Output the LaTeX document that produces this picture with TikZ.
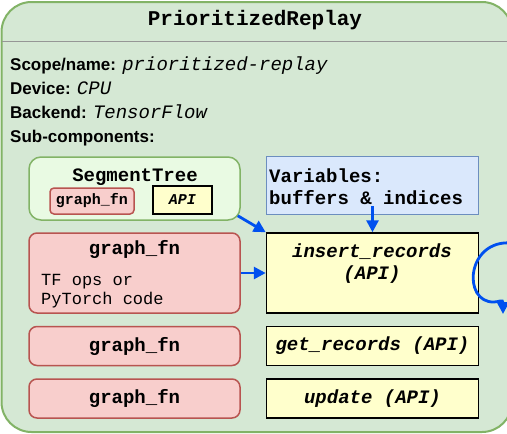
\documentclass[tikz,border=0pt]{standalone}
\usepackage{fontspec}
\setmainfont{Liberation Sans}
\setmonofont{Liberation Mono}
\usetikzlibrary{positioning,arrows.meta,calc}
\definecolor{PanelGreen}{RGB}{213,232,212}
\definecolor{PanelEdge}{RGB}{130,179,102}
\definecolor{TreeGreen}{RGB}{233,250,227}
\definecolor{FnRed}{RGB}{248,206,204}
\definecolor{FnEdge}{RGB}{184,84,80}
\definecolor{VarBlue}{RGB}{218,232,252}
\definecolor{VarEdge}{RGB}{108,142,191}
\definecolor{ApiYellow}{RGB}{255,255,204}
\definecolor{FlowBlue}{RGB}{0,80,239}
\definecolor{RuleGrey}{RGB}{150,150,150}
\tikzset{
  flow/.style={-{Triangle[length=12pt,width=12pt]},line width=2.8pt,draw=FlowBlue},
  panel/.style={draw=PanelEdge,fill=PanelGreen,line width=2pt,rounded corners=30pt},
  treebox/.style={draw=PanelEdge,fill=TreeGreen,line width=1.5pt,rounded corners=12pt,
    minimum width=211pt,minimum height=63pt},
  fnbox/.style={draw=FnEdge,fill=FnRed,line width=1.5pt,rounded corners=8pt,
    minimum width=211pt,minimum height=39pt,inner sep=0pt,
    font=\ttfamily\bfseries\fontsize{19}{22}\selectfont},
  smallfn/.style={draw=FnEdge,fill=FnRed,line width=1.5pt,rounded corners=4pt,
    minimum width=84pt,minimum height=26pt,inner sep=0pt,
    font=\ttfamily\bfseries\fontsize{15}{18}\selectfont},
  apibox/.style={draw=black,fill=ApiYellow,line width=1.5pt,
    minimum width=212pt,minimum height=39pt,inner sep=0pt,
    font=\ttfamily\bfseries\itshape\fontsize{19}{22}\selectfont},
  varbox/.style={draw=VarEdge,fill=VarBlue,line width=1.5pt,
    minimum width=212pt,minimum height=58pt},
  proptext/.style={anchor=base west,inner sep=0pt,font=\bfseries\fontsize{17}{20}\selectfont},
  codetext/.style={anchor=base,inner sep=0pt,font=\ttfamily\bfseries\fontsize{19}{22}\selectfont},
  notetext/.style={anchor=base west,inner sep=0pt,font=\ttfamily\fontsize{17}{20}\selectfont}
}

\begin{document}
\begin{tikzpicture}[x=1pt,y=-1pt]
  \useasboundingbox (0,0) rectangle (507,434);
  \clip (0,0) rectangle (507,434);
  \fill[white] (0,0) rectangle (507,434);
  % outer component
  \draw[panel] (1.5,2) rectangle (512,432);
  \node[codetext,font=\ttfamily\bfseries\fontsize{21}{24}\selectfont] (title) at (255,25) {PrioritizedReplay};
  \draw[RuleGrey,line width=1pt] (1.5,41) -- (512,41);
  \node[proptext] (scope) at (10,70) {Scope/name: \mdseries\ttfamily\itshape\fontsize{19}{22}\selectfont prioritized-replay};
  \node[proptext] (device) at (10,94) {Device: \mdseries\ttfamily\itshape\fontsize{19}{22}\selectfont CPU};
  \node[proptext] (backend) at (10,118) {Backend: \mdseries\ttfamily\itshape\fontsize{19}{22}\selectfont TensorFlow};
  \node[proptext] (subs) at (10,142) {Sub-components:};
  % sub-components
  \node[treebox] (segtree) at (134.5,188.5) {};
  \node[codetext] (segname) at (135,181) {SegmentTree};
  \node[smallfn] (segfn) at (92,201) {graph\_fn};
  \node[apibox,minimum width=59pt,minimum height=28pt,
    font=\ttfamily\bfseries\itshape\fontsize{15}{18}\selectfont] (segapi) at (182.5,200) {API};
  \node[fnbox,minimum height=80pt] (gfnA) at (134.5,273) {};
  \node[codetext] (gfnAname) at (134.5,254) {graph\_fn};
  \node[notetext] (gfnAnote) at (41,285) {TF ops or};
  \node[notetext] (gfnAcode) at (41,304) {PyTorch code};
  \node[fnbox,below=12pt of gfnA] (gfnB) {graph\_fn};
  \node[fnbox,below=12pt of gfnB] (gfnC) {graph\_fn};
  \node[apibox,minimum height=80pt,right=25pt of gfnA] (insert) {};
  \node[codetext,font=\ttfamily\bfseries\itshape\fontsize{19}{22}\selectfont] (insertname) at (372,257) {insert\_records};
  \node[codetext,font=\ttfamily\bfseries\itshape\fontsize{19}{22}\selectfont] (insertapi) at (372,279) {(API)};
  \node[apibox,right=25pt of gfnB] (getrec) {get\_records (API)};
  \node[apibox,right=25pt of gfnC] (update) {update (API)};
  \node[varbox,above=17pt of insert] (vars) {};
  \node[codetext,anchor=base west] (varsA) at (269,182) {Variables:};
  \node[codetext,anchor=base west] (varsB) at (269,204.5) {buffers \& indices};
  % connectors
  \draw[flow] ($(segtree.south east)+(-3,-5)$) -- (insert.north west);
  \draw[flow] (gfnA) -- (insert);
  \draw[flow] ($(vars.south)+(0,-9)$) -- (insert.north);
  \coordinate (loopin) at (512,243);
  \coordinate (loopout) at (503,314);
  \draw[flow] (loopin) .. controls (466,239) and (462,303) .. (494,302)
    .. controls (499,302) and (503,299) .. (loopout);
\end{tikzpicture}
\end{document}
